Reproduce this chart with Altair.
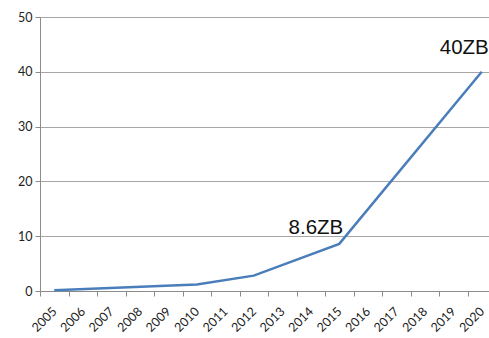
import altair as alt
import pandas as pd

# Axis categories (every year shown on the x axis)
all_years = [str(y) for y in range(2005, 2021)]

# Measured / projected global data volume, in zettabytes
years = ["2005", "2010", "2012", "2015", "2020"]
volume_zb = [0.13, 1.2, 2.8, 8.6, 40]

# Callout labels
label_years = ["2015", "2020"]
label_texts = ["8.6ZB", "40ZB"]

df = pd.DataFrame({"year": years, "zb": volume_zb})
lab = pd.DataFrame({"year": label_years, "text": label_texts})
lab = lab.merge(df, on="year")

x_enc = alt.X(
    "year:N",
    sort=all_years,
    scale=alt.Scale(type="band", domain=all_years, range=[0, 456],
                    paddingInner=0, paddingOuter=0),
    axis=alt.Axis(
        title=None, tickBand="extent", labelAngle=-45, labelAlign="right",
        labelBaseline="middle", labelFont="Lato", labelFontSize=12.5,
        labelColor="#222222", labelPadding=13, tickSize=5,
        tickColor="#8c8c8c", domainColor="#8c8c8c", grid=False,
        labelOverlap=False,
    ),
)
y_enc = alt.Y(
    "zb:Q",
    scale=alt.Scale(domain=[0, 50], nice=False),
    axis=alt.Axis(
        title=None, values=[0, 10, 20, 30, 40, 50], grid=True,
        gridColor="#a6a6a6", gridWidth=1, domainColor="#8c8c8c",
        tickColor="#8c8c8c", tickSize=5, labelFont="Lato",
        labelFontSize=12.5, labelColor="#222222", labelPadding=3,
    ),
)

line = alt.Chart(df).mark_line(color="#4a7ebb", strokeWidth=2.5).encode(
    x=x_enc, y=y_enc
)

text_style = dict(font="Liberation Sans", fontSize=20.5, color="#111111",
                  align="right", baseline="alphabetic")
t1 = alt.Chart(lab[lab["year"] == "2015"]).mark_text(
    dx=4, dy=-10, **text_style
).encode(x=alt.X("year:N", sort=all_years), y="zb:Q", text="text:N")
t2 = alt.Chart(lab[lab["year"] == "2020"]).mark_text(
    dx=7, dy=-18, **text_style
).encode(x=alt.X("year:N", sort=all_years), y="zb:Q", text="text:N")

chart = (
    alt.layer(line, t1, t2)
    .properties(
        width=449,
        height=274,
        autosize=alt.AutoSizeParams(type="none"),
        padding={"left": 40, "top": 17, "right": 0, "bottom": 47},
        background="white",
    )
    .configure_view(stroke=None)
)

chart.save("out.html", embed_options={"renderer": "svg", "actions": False})
